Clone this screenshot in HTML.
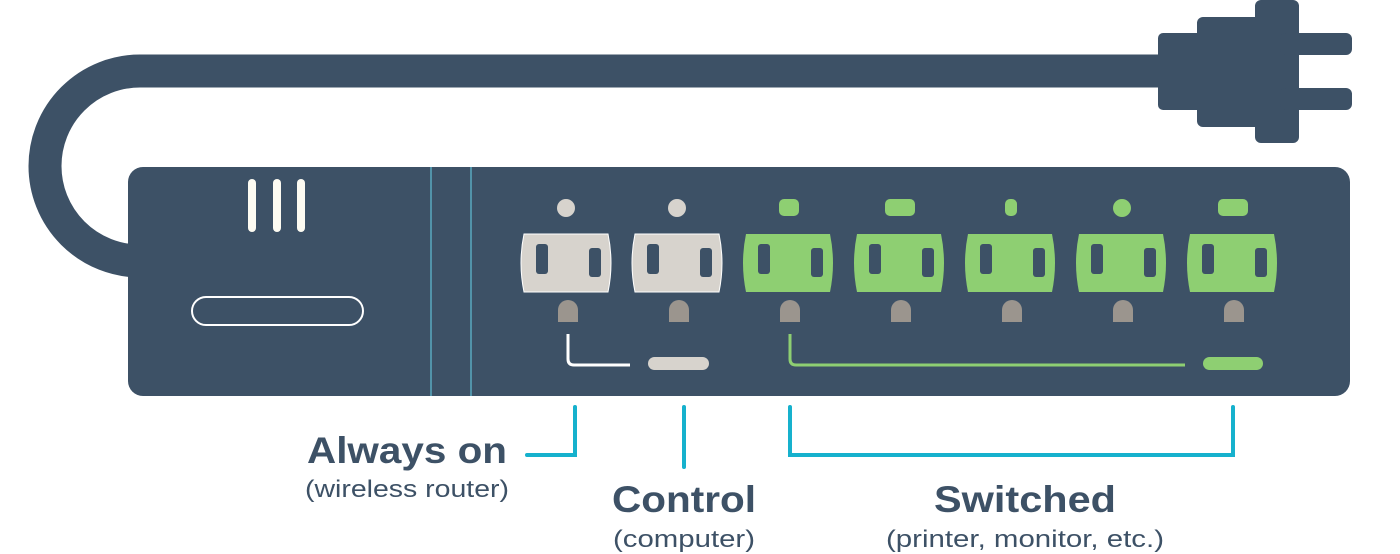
<!DOCTYPE html>
<html><head><meta charset="utf-8"><style>
html,body{margin:0;padding:0;background:#fff;}
svg{display:block;}
text{font-family:"Liberation Sans",sans-serif;fill:#3d5166;}
</style></head><body>
<svg width="1400" height="554" viewBox="0 0 1400 554" xmlns="http://www.w3.org/2000/svg">
<!-- cord -->
<path d="M1170,71 H140 A95,95 0 0 0 140,261 H150" fill="none" stroke="#3d5166" stroke-width="33"/>
<!-- plug -->
<g fill="#3d5166">
<rect x="1158" y="33" width="60" height="77" rx="5"/>
<rect x="1197" y="17" width="80" height="110" rx="6"/>
<rect x="1255" y="0" width="44" height="143" rx="6"/>
<rect x="1280" y="33" width="72" height="22" rx="6"/>
<rect x="1280" y="88" width="72" height="22" rx="6"/>
</g>
<!-- strip -->
<rect x="128" y="167" width="1222" height="229" rx="15" fill="#3d5166"/>
<line x1="431" y1="167" x2="431" y2="396" stroke="#5aa9bf" stroke-width="1.5"/>
<line x1="471" y1="167" x2="471" y2="396" stroke="#5aa9bf" stroke-width="1.5"/>
<g fill="#fdfbf2">
<rect x="248" y="179" width="8" height="53" rx="4"/>
<rect x="273" y="179" width="8" height="53" rx="4"/>
<rect x="297" y="179" width="8" height="53" rx="4"/>
</g>
<rect x="192" y="297" width="171" height="28" rx="14" fill="none" stroke="#fff" stroke-width="2"/>
<!-- outlets -->
<g id="outlets">
<!-- indicators -->
<circle cx="566" cy="208" r="9" fill="#d7d3cd"/>
<circle cx="677" cy="208" r="9" fill="#d7d3cd"/>
<rect x="779" y="199" width="20" height="17" rx="5" fill="#8ecf72"/>
<rect x="885" y="199" width="30" height="17" rx="5" fill="#8ecf72"/>
<rect x="1005" y="199" width="12" height="17" rx="5" fill="#8ecf72"/>
<circle cx="1122" cy="208" r="9" fill="#8ecf72"/>
<rect x="1218" y="199" width="30" height="17" rx="5" fill="#8ecf72"/>
</g>
<g stroke="#fff" stroke-width="1">
<path d="M524,234 H608 Q614,263 608,292 H524 Q518,263 524,234 Z" fill="#d7d3cd"/>
<path d="M635,234 H719 Q725,263 719,292 H635 Q629,263 635,234 Z" fill="#d7d3cd"/>
</g>
<g fill="#8ecf72">
<path d="M746,234 H830 Q836,263 830,292 H746 Q740,263 746,234 Z"/>
<path d="M857,234 H941 Q947,263 941,292 H857 Q851,263 857,234 Z"/>
<path d="M968,234 H1052 Q1058,263 1052,292 H968 Q962,263 968,234 Z"/>
<path d="M1079,234 H1163 Q1169,263 1163,292 H1079 Q1073,263 1079,234 Z"/>
<path d="M1190,234 H1274 Q1280,263 1274,292 H1190 Q1184,263 1190,234 Z"/>
</g>
<g fill="#3d5166">
<rect x="536" y="244" width="12" height="30" rx="3"/><rect x="589" y="248" width="12" height="29" rx="3"/>
<rect x="647" y="244" width="12" height="30" rx="3"/><rect x="700" y="248" width="12" height="29" rx="3"/>
<rect x="758" y="244" width="12" height="30" rx="3"/><rect x="811" y="248" width="12" height="29" rx="3"/>
<rect x="869" y="244" width="12" height="30" rx="3"/><rect x="922" y="248" width="12" height="29" rx="3"/>
<rect x="980" y="244" width="12" height="30" rx="3"/><rect x="1033" y="248" width="12" height="29" rx="3"/>
<rect x="1091" y="244" width="12" height="30" rx="3"/><rect x="1144" y="248" width="12" height="29" rx="3"/>
<rect x="1202" y="244" width="12" height="30" rx="3"/><rect x="1255" y="248" width="12" height="29" rx="3"/>
</g>
<g fill="#9b958e">
<path d="M558,322 V310 A10,10 0 0 1 578,310 V322 Z"/>
<path d="M669,322 V310 A10,10 0 0 1 689,310 V322 Z"/>
<path d="M780,322 V310 A10,10 0 0 1 800,310 V322 Z"/>
<path d="M891,322 V310 A10,10 0 0 1 911,310 V322 Z"/>
<path d="M1002,322 V310 A10,10 0 0 1 1022,310 V322 Z"/>
<path d="M1113,322 V310 A10,10 0 0 1 1133,310 V322 Z"/>
<path d="M1224,322 V310 A10,10 0 0 1 1244,310 V322 Z"/>
</g>
<path d="M568,334 V359 Q568,365 574,365 H630" fill="none" stroke="#fff" stroke-width="3"/>
<rect x="648" y="357" width="61" height="13" rx="6.5" fill="#d7d3cd"/>
<path d="M790,334 V359 Q790,365 796,365 H1185" fill="none" stroke="#8ecf72" stroke-width="3"/>
<rect x="1203" y="357" width="60" height="13" rx="6.5" fill="#8ecf72"/>
<!-- connectors -->
<g fill="none" stroke="#16b1cd" stroke-width="4" stroke-linecap="round">
<path d="M575,407 V455 H527"/>
<path d="M684,407 V467"/>
<path d="M790,407 V455 H1233 V407"/>
</g>
<text x="407" y="463" font-size="37" font-weight="bold" text-anchor="middle" textLength="200" lengthAdjust="spacingAndGlyphs">Always on</text>
<text x="407" y="497" font-size="24" text-anchor="middle" textLength="204" lengthAdjust="spacingAndGlyphs">(wireless router)</text>
<text x="684" y="512" font-size="37" font-weight="bold" text-anchor="middle" textLength="144" lengthAdjust="spacingAndGlyphs">Control</text>
<text x="684" y="547" font-size="24" text-anchor="middle" textLength="142" lengthAdjust="spacingAndGlyphs">(computer)</text>
<text x="1025" y="512" font-size="37" font-weight="bold" text-anchor="middle" textLength="182" lengthAdjust="spacingAndGlyphs">Switched</text>
<text x="1025" y="547" font-size="24" text-anchor="middle" textLength="278" lengthAdjust="spacingAndGlyphs">(printer, monitor, etc.)</text>
</svg>
</body></html>
